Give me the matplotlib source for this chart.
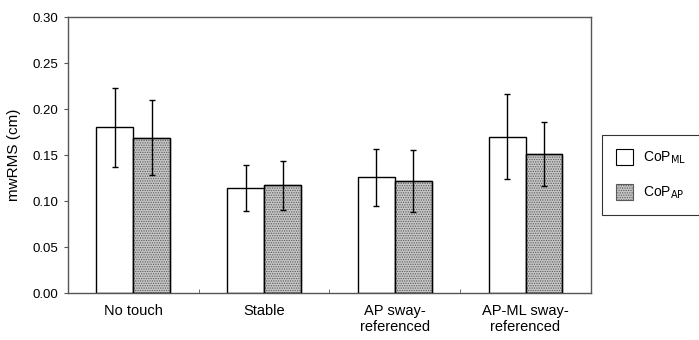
import numpy as np
import matplotlib as mpl
import matplotlib.pyplot as plt
from matplotlib.patches import Patch

mpl.rcParams['font.family'] = ['Liberation Sans', 'DejaVu Sans']
mpl.rcParams['hatch.linewidth'] = 0.6

# data
conditions = ['No touch', 'Stable', 'AP sway-\nreferenced', 'AP-ML sway-\nreferenced']
cop_ml = [0.180, 0.114, 0.126, 0.170]
cop_ml_sd = [0.043, 0.025, 0.031, 0.046]
cop_ap = [0.169, 0.117, 0.122, 0.151]
cop_ap_sd = [0.041, 0.027, 0.034, 0.035]
series_labels = ['CoP$_{\\mathrm{ML}}$', 'CoP$_{\\mathrm{AP}}$']


def main():
    fig = plt.figure(figsize=(6.99, 3.40), dpi=100)
    ax = fig.add_axes([0.0973, 0.138, 0.748, 0.812])

    x = np.arange(len(conditions))
    w = 0.283
    err_kw = dict(ecolor='black', elinewidth=1.0, capsize=2.5, capthick=1.0)

    ax.bar(x - w / 2, cop_ml, w, yerr=cop_ml_sd, color='white',
           edgecolor='black', linewidth=1.0, error_kw=err_kw, zorder=2)
    ax.bar(x + w / 2, cop_ap, w, yerr=cop_ap_sd, color='#c6c6c6',
           edgecolor='#5a5a5a', hatch='.......', linewidth=1.0,
           error_kw=err_kw, zorder=2)
    # redraw the outline of the hatched bars in black
    ax.bar(x + w / 2, cop_ap, w, fill=False, edgecolor='black',
           linewidth=1.0, zorder=3)

    ax.set_xlim(-0.5, len(conditions) - 0.5)
    ax.set_ylim(0, 0.30)
    ax.set_yticks(np.arange(0, 0.301, 0.05))
    ax.set_yticklabels([f'{v:.2f}' for v in np.arange(0, 0.301, 0.05)])
    ax.set_xticks(x)
    ax.set_xticklabels(conditions)
    ax.set_xticks(np.arange(0.5, len(conditions) - 0.5), minor=True)
    ax.tick_params(axis='x', which='major', length=0, pad=8, labelsize=10.5)
    ax.tick_params(axis='x', which='minor', direction='in', length=3,
                   color='#555555')
    ax.tick_params(axis='y', direction='out', length=3, labelsize=9.5,
                   color='#555555', pad=4)
    for sp in ax.spines.values():
        sp.set_color('#555555')
        sp.set_linewidth(1.0)
    ax.set_ylabel('mwRMS (cm)', fontsize=11, labelpad=8)

    handles = [Patch(facecolor='white', edgecolor='black', linewidth=0.8),
               Patch(facecolor='#c6c6c6', edgecolor='#5a5a5a',
                     hatch='.......', linewidth=0.8)]
    leg = fig.legend(handles, series_labels, loc='center left',
                     bbox_to_anchor=(0.861, 0.485), fontsize=10,
                     frameon=True, fancybox=False, edgecolor='black',
                     handlelength=1.25, handleheight=1.35, labelspacing=1.3,
                     borderpad=1.0, handletextpad=0.7, borderaxespad=0)
    leg.get_frame().set_linewidth(0.8)

    fig.savefig('out.png', dpi=100)


if __name__ == '__main__':
    main()
